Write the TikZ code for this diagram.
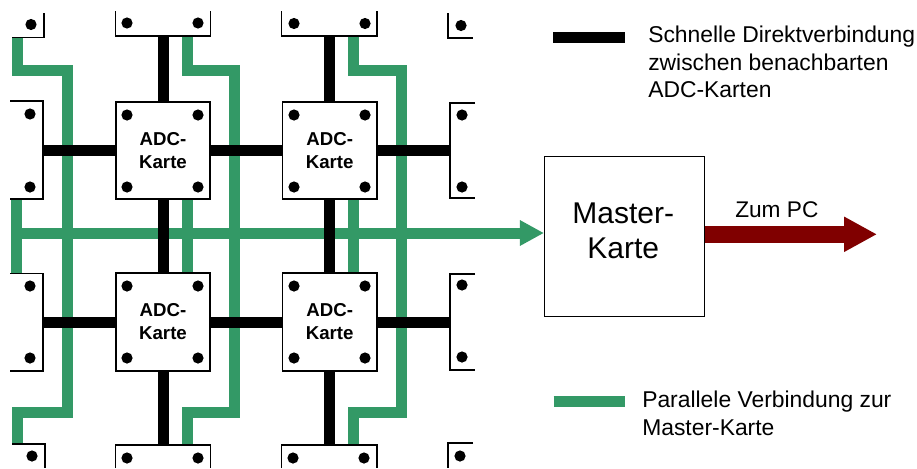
\documentclass[tikz,border=0pt]{standalone}
\usepackage{fontspec}
\setmainfont{Liberation Sans}
\usetikzlibrary{arrows.meta}
\definecolor{fastcolor}{rgb}{0.000000, 0.000000, 0.000000}
\definecolor{parcolor}{rgb}{0.200000, 0.600000, 0.400000}
\definecolor{pccolor}{rgb}{0.500000, 0.000000, 0.000000}
\newlength{\du}
\setlength{\du}{0.75pt}
\tikzset{
  adccard/.style={draw=black,fill=white,line width=1.7\du,minimum width=94.5\du,minimum height=97.5\du,inner sep=0pt,align=center,font=\fontsize{14}{17.25}\selectfont\bfseries},
  mastercard/.style={draw=black,fill=white,line width=1.1\du,minimum width=160\du,minimum height=160\du},
  mastertext/.style={inner sep=0pt,align=center,font=\fontsize{22.5}{26.25}\selectfont},
  cardedge/.style={draw=black,line width=1.7\du},
  screwhole/.style={fill=black},
  fastlink/.style={draw=fastcolor,line width=11\du},
  parlink/.style={draw=parcolor,line width=11\du,miter limit=10},
  legendtext/.style={anchor=north west,inner sep=0pt,align=left,font=\fontsize{17.15}{20.6}\selectfont},
}

\begin{document}
\begin{tikzpicture}
\pgftransformxscale{1.000000}
\pgftransformyscale{-1.000000}
\useasboundingbox (0\du,0\du) rectangle (917\du,468\du);
% ends of the links at the cut-off cards
\coordinate (topB) at (163\du,36\du);
\coordinate (topD) at (329.7\du,36\du);
\coordinate (bottomB) at (163\du,444.5\du);
\coordinate (bottomD) at (329.7\du,444.5\du);
\coordinate (leftA) at (43\du,150.5\du);
\coordinate (leftC) at (43\du,322\du);
\coordinate (rightB) at (450\du,150.5\du);
\coordinate (rightD) at (450\du,322\du);
\coordinate (partopA) at (17.5\du,37\du);
\coordinate (parbotA) at (17.5\du,444\du);
\coordinate (partopB) at (187\du,36\du);
\coordinate (parbotB) at (187\du,444.5\du);
\coordinate (partopC) at (353.5\du,36\du);
\coordinate (parbotC) at (353.5\du,444.5\du);
\coordinate (parmidAn) at (16\du,199\du);
\coordinate (parmidAs) at (16\du,273\du);
\coordinate (parmidBn) at (187\du,199\du);
\coordinate (parmidBs) at (187\du,272\du);
\coordinate (parmidCn) at (353.5\du,199\du);
\coordinate (parmidCs) at (353.5\du,272\du);
\coordinate (busleft) at (16\du,233\du);
\coordinate (pcend) at (877\du,234.3\du);
% parallel lines
\draw[parlink] (partopA)--(17.5\du,70\du)--(67\du,70\du)--(67\du,412\du)--(17.5\du,412\du)--(parbotA);
\draw[parlink] (partopB)--(187\du,70\du)--(234\du,70\du)--(234\du,412\du)--(187\du,412\du)--(parbotB);
\draw[parlink] (partopC)--(353.5\du,70\du)--(401\du,70\du)--(401\du,412\du)--(353.5\du,412\du)--(parbotC);
\draw[parlink] (parmidAn)--(parmidAs);
\draw[parlink] (parmidBn)--(parmidBs);
\draw[parlink] (parmidCn)--(parmidCs);
% cards
\node[adccard] (cardA) at (163\du,150.5\du){ADC-\\Karte};
\node[adccard] (cardB) at (329.7\du,150.5\du){ADC-\\Karte};
\node[adccard] (cardC) at (163\du,322\du){ADC-\\Karte};
\node[adccard] (cardD) at (329.7\du,322\du){ADC-\\Karte};
\node[mastercard] (master) at (624.5\du,236.5\du){};
\node[mastertext] (mastername) at (623.3\du,230.5\du){Master-\\Karte};
% bus and output
\draw[parlink,-{Triangle[length=18pt,width=18pt]}] (busleft)--(busleft -| master.west);
\draw[draw=pccolor,line width=16.7\du,-{Triangle[length=24.75pt,width=24.75pt]}] (master.east |- pcend)--(pcend);
\node[anchor=base west,inner sep=0pt,font=\fontsize{17}{20.6}\selectfont] (pclabel) at (735\du,217\du){Zum PC};
% direct links
\draw[fastlink] (topB)--(cardA);
\draw[fastlink] (topD)--(cardB);
\draw[fastlink] (cardA)--(cardC);
\draw[fastlink] (cardB)--(cardD);
\draw[fastlink] (cardC)--(bottomB);
\draw[fastlink] (cardD)--(bottomD);
\draw[fastlink] (leftA)--(cardA);
\draw[fastlink] (cardA)--(cardB);
\draw[fastlink] (cardB)--(rightB);
\draw[fastlink] (leftC)--(cardC);
\draw[fastlink] (cardC)--(cardD);
\draw[fastlink] (cardD)--(rightD);
% cut-off cards
\draw[cardedge] (115.5\du,11\du)--(115.5\du,36\du)--(210.5\du,36\du)--(210.5\du,11\du);
\draw[cardedge] (281.5\du,11\du)--(281.5\du,36\du)--(377\du,36\du)--(377\du,11\du);
\draw[cardedge] (115.5\du,468\du)--(115.5\du,445\du)--(210.5\du,445\du)--(210.5\du,468\du);
\draw[cardedge] (281.5\du,468\du)--(281.5\du,445\du)--(377\du,445\du)--(377\du,468\du);
\draw[cardedge] (44\du,13\du)--(44\du,37.5\du)--(12\du,37.5\du);
\draw[cardedge] (448\du,13\du)--(448\du,38\du)--(473\du,38\du);
\draw[cardedge] (12\du,444\du)--(45\du,444\du)--(45\du,468\du);
\draw[cardedge] (473\du,443\du)--(448\du,443\du)--(448\du,468\du);
\draw[cardedge] (10\du,101\du)--(43\du,101\du)--(43\du,199\du)--(10\du,199\du);
\draw[cardedge] (10\du,273.5\du)--(43\du,273.5\du)--(43\du,371\du)--(10\du,371\du);
\draw[cardedge] (475\du,103\du)--(450\du,103\du)--(450\du,198\du)--(475\du,198\du);
\draw[cardedge] (475\du,274\du)--(450\du,274\du)--(450\du,370\du)--(475\du,370\du);
% screw holes
\fill[screwhole] (127\du,115\du) circle (5.6\du);
\fill[screwhole] (198\du,115\du) circle (5.6\du);
\fill[screwhole] (127\du,187\du) circle (5.6\du);
\fill[screwhole] (198\du,187\du) circle (5.6\du);
\fill[screwhole] (294\du,115\du) circle (5.6\du);
\fill[screwhole] (365\du,115\du) circle (5.6\du);
\fill[screwhole] (294\du,187\du) circle (5.6\du);
\fill[screwhole] (365\du,187\du) circle (5.6\du);
\fill[screwhole] (127\du,286\du) circle (5.6\du);
\fill[screwhole] (198\du,286\du) circle (5.6\du);
\fill[screwhole] (127\du,358\du) circle (5.6\du);
\fill[screwhole] (198\du,358\du) circle (5.6\du);
\fill[screwhole] (294\du,286\du) circle (5.6\du);
\fill[screwhole] (365\du,286\du) circle (5.6\du);
\fill[screwhole] (294\du,358\du) circle (5.6\du);
\fill[screwhole] (365\du,358\du) circle (5.6\du);
\fill[screwhole] (31\du,24.5\du) circle (5.6\du);
\fill[screwhole] (127\du,23\du) circle (5.6\du);
\fill[screwhole] (198\du,23\du) circle (5.6\du);
\fill[screwhole] (294\du,23.5\du) circle (5.6\du);
\fill[screwhole] (365\du,23.5\du) circle (5.6\du);
\fill[screwhole] (461\du,25.5\du) circle (5.6\du);
\fill[screwhole] (30\du,114\du) circle (5.6\du);
\fill[screwhole] (30\du,187\du) circle (5.6\du);
\fill[screwhole] (462\du,115\du) circle (5.6\du);
\fill[screwhole] (462\du,187\du) circle (5.6\du);
\fill[screwhole] (30\du,286\du) circle (5.6\du);
\fill[screwhole] (30\du,358\du) circle (5.6\du);
\fill[screwhole] (462\du,285\du) circle (5.6\du);
\fill[screwhole] (462\du,357\du) circle (5.6\du);
\fill[screwhole] (32\du,456\du) circle (5.6\du);
\fill[screwhole] (127\du,458\du) circle (5.6\du);
\fill[screwhole] (198\du,458\du) circle (5.6\du);
\fill[screwhole] (293\du,458\du) circle (5.6\du);
\fill[screwhole] (364\du,458\du) circle (5.6\du);
\fill[screwhole] (460\du,456\du) circle (5.6\du);
% legend
\coordinate (fastkeyL) at (553\du,37\du);
\coordinate (fastkeyR) at (624.5\du,37\du);
\coordinate (parkeyL) at (553.5\du,401\du);
\coordinate (parkeyR) at (625\du,401\du);
\draw[fastlink] (fastkeyL)--(fastkeyR);
\draw[parlink] (parkeyL)--(parkeyR);
\node[legendtext] (fasttext) at (648\du,26\du){Schnelle Direktverbindung\\zwischen benachbarten\\ADC-Karten};
\node[legendtext] (partext) at (642\du,391\du){Parallele Verbindung zur\\Master-Karte};
\end{tikzpicture}
\end{document}
